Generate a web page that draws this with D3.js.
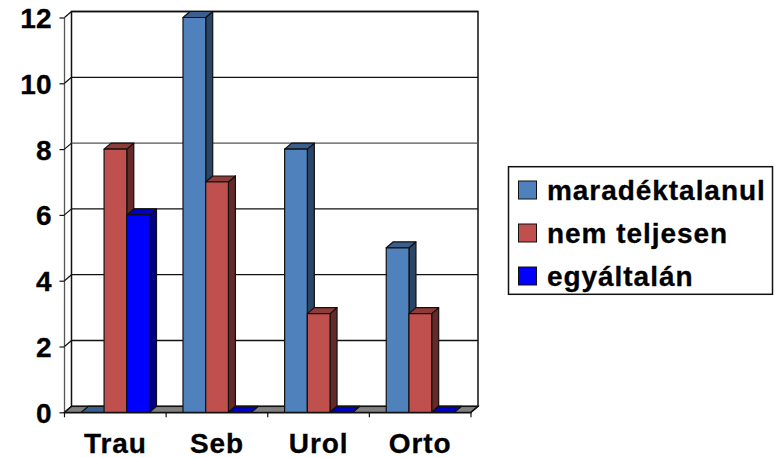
<!DOCTYPE html>
<html><head><meta charset="utf-8">
<script src="https://d3js.org/d3.v7.min.js"></script>
<style>html,body{margin:0;padding:0;background:#fff}svg{display:block}
text{font-family:"Liberation Sans",Arial,sans-serif;font-weight:bold;fill:#000;stroke:#000;stroke-width:0.3px}</style>
</head><body><svg width="775" height="458"></svg>
<script>
const categories = ["Trau","Seb","Urol","Orto"];
const seriesNames = ["maradéktalanul","nem teljesen","egyáltalán"];
const maradektalanul = [0,12,8,5];
const nemTeljesen = [8,7,3,3];
const egyaltalan = [6,0,0,0];
const seriesValues = [maradektalanul,nemTeljesen,egyaltalan];
const yTicks = [0,2,4,6,8,10,12];
const frontColors = ["#4F81BD","#C0504D","#0000FF"];
const sideColors = ["#2A4565","#652A28","#000088"];
const topColors = ["#3A5F8C","#8F3B39","#0000BF"];

const svg = d3.select("svg");
const dx = 7, dy = -6;
const x = d3.scaleBand().domain(categories).range([64.5,471]);
const y = d3.scaleLinear().domain([0,12]).range([412.3,17.5]);
const barW = x.bandwidth()*0.2235, inset = x.bandwidth()*0.166;
const strokeC = "#111";

// floor
const floor = [[x.range()[0],y(0)],[x.range()[1],y(0)],[x.range()[1]+dx,y(0)+dy],[x.range()[0]+dx,y(0)+dy]];
svg.append("polygon").attr("points",floor.join(" ")).attr("fill","#808080").attr("stroke",strokeC).attr("stroke-width",1.3);

// back wall + left wall
svg.append("rect").attr("x",x.range()[0]+dx).attr("y",y(12)+dy)
  .attr("width",x.range()[1]-x.range()[0]).attr("height",y(0)-y(12))
  .attr("fill","none").attr("stroke",strokeC).attr("stroke-width",1.5);
svg.append("line").attr("x1",x.range()[0]).attr("x2",x.range()[0]).attr("y1",y(12)).attr("y2",y(0)).attr("stroke","#555").attr("stroke-width",1.3);
yTicks.forEach(t=>{
  if(t>0) svg.append("line").attr("x1",x.range()[0]+dx).attr("x2",x.range()[1]+dx).attr("y1",y(t)+dy).attr("y2",y(t)+dy).attr("stroke",t===8?"#555":"#111").attr("stroke-width",1.3);
  svg.append("line").attr("x1",x.range()[0]).attr("x2",x.range()[0]+dx).attr("y1",y(t)).attr("y2",y(t)+dy).attr("stroke",strokeC).attr("stroke-width",1.2);
});
svg.append("line").attr("x1",x.range()[1]).attr("x2",x.range()[1]+dx).attr("y1",y(0)).attr("y2",y(0)+dy).attr("stroke",strokeC).attr("stroke-width",1.2);

// axes
const yAxis = d3.axisLeft(y).tickValues(yTicks).tickSize(5).tickPadding(8);
const gy = svg.append("g").attr("transform",`translate(${x.range()[0]},0)`).call(yAxis);
gy.select(".domain").remove();
gy.selectAll("line").attr("stroke",strokeC).attr("stroke-width",1.2);
gy.selectAll("text").attr("font-size",28).attr("dy","0.36em").attr("fill","#000");

const xAxis = d3.axisBottom(x).tickSize(0).tickPadding(21);
const gx = svg.append("g").attr("transform",`translate(0,${y(0)})`).call(xAxis);
gx.select(".domain").attr("stroke",strokeC).attr("stroke-width",1.3);
gx.selectAll("text").attr("font-size",28).style("letter-spacing","0.9px").attr("dy","0.71em").attr("fill","#000");
const edges = categories.map(c=>x(c)).concat([x.range()[1]]);
svg.selectAll(".edge").data(edges).join("line").attr("class","edge")
  .attr("x1",d=>d).attr("x2",d=>d).attr("y1",y(0)).attr("y2",y(0)+5).attr("stroke",strokeC).attr("stroke-width",1.2);

// bars
categories.forEach((c,ci)=>{
  seriesValues.forEach((vals,si)=>{
    const v = vals[ci];
    const x0 = x(c)+inset+si*barW, x1 = x0+barW, yt = y(v), yb = y(0);
    const g = svg.append("g").attr("stroke",strokeC).attr("stroke-width",1.2).attr("stroke-linejoin","round");
    g.append("polygon").attr("fill",sideColors[si])
      .attr("points",[[x1,yt],[x1+dx,yt+dy],[x1+dx,yb+dy],[x1,yb]].join(" "));
    g.append("polygon").attr("fill",topColors[si])
      .attr("points",[[x0,yt],[x1,yt],[x1+dx,yt+dy],[x0+dx,yt+dy]].join(" "));
    if(v>0) g.append("rect").attr("x",x0).attr("y",yt).attr("width",barW).attr("height",yb-yt).attr("fill",frontColors[si]);
  });
});

// legend
const lg = svg.append("g");
lg.append("rect").attr("x",508.5).attr("y",166.7).attr("width",264).attr("height",127.6).attr("fill","#fff").attr("stroke","#111").attr("stroke-width",1.5);
const rows = d3.scalePoint().domain(seriesNames).range([190,276]);
seriesNames.forEach((n,i)=>{
  lg.append("rect").attr("x",518.5).attr("y",rows(n)-9).attr("width",18).attr("height",18).attr("fill",frontColors[i]).attr("stroke","#111").attr("stroke-width",1);
  lg.append("text").attr("x",547).attr("y",rows(n)+10).attr("font-size",28).style("letter-spacing","0.95px").text(n);
});
</script></body></html>
